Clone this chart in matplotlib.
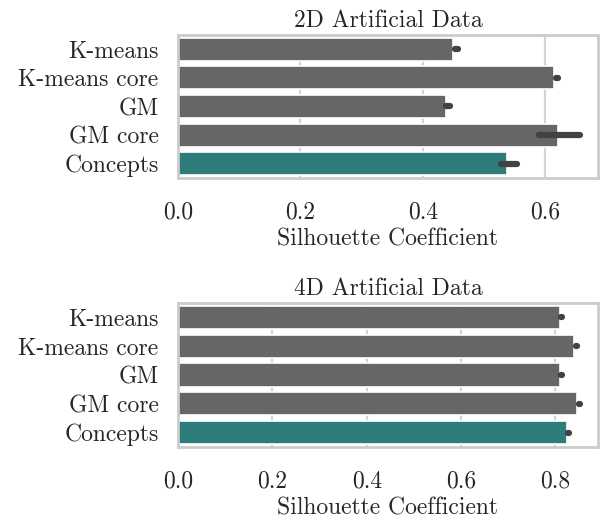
import numpy as np
import matplotlib
matplotlib.use("Agg")
import matplotlib.pyplot as plt

plt.rcParams['font.family'] = 'cmr10'
plt.rcParams['axes.formatter.use_mathtext'] = True

# data
methods = ['K-means', 'K-means core', 'GM', 'GM core', 'Concepts']

sil_2d = [0.450, 0.615, 0.438, 0.621, 0.537]
ci_2d_lo = [0.453, 0.617, 0.437, 0.590, 0.527]
ci_2d_hi = [0.457, 0.620, 0.444, 0.657, 0.553]

sil_4d = [0.809, 0.840, 0.809, 0.846, 0.825]
ci_4d_lo = [0.812, 0.843, 0.812, 0.849, 0.827]
ci_4d_hi = [0.814, 0.845, 0.814, 0.851, 0.829]

titles = ['2D Artificial Data', '4D Artificial Data']
xlims = [0.686, 0.890]
xticks = [[0.0, 0.2, 0.4, 0.6], [0.0, 0.2, 0.4, 0.6, 0.8]]

grey = '#666666'
teal = '#2e7d7a'
colors = [grey, grey, grey, grey, teal]
txt = '#262626'
fs = 17

fig = plt.figure(figsize=(6.04, 5.23), dpi=100)
ax1 = fig.add_axes([0.2947, 0.6597, 0.6953, 0.2734])
ax2 = fig.add_axes([0.2947, 0.1453, 0.6953, 0.2754])

panels = [(ax1, sil_2d, ci_2d_lo, ci_2d_hi), (ax2, sil_4d, ci_4d_lo, ci_4d_hi)]

for i, (ax, vals, lo, hi) in enumerate(panels):
    y = np.arange(len(methods))
    ax.barh(y, vals, height=0.8, color=colors, edgecolor='white', lw=1.2, zorder=2)
    for k in range(len(methods)):
        ax.plot([lo[k], hi[k]], [y[k], y[k]], color='#424242', lw=4.5,
                solid_capstyle='round', zorder=3)
    ax.set_yticks(y)
    ax.set_yticklabels(methods, fontsize=fs, color=txt)
    ax.set_ylim(4.5, -0.5)
    ax.set_xlim(0, xlims[i])
    ax.set_xticks(xticks[i])
    ax.set_xticklabels(['%.1f' % t for t in xticks[i]], fontsize=fs, color=txt)
    ax.set_xlabel('Silhouette Coefficient', fontsize=fs, color=txt, labelpad=3)
    ax.set_title(titles[i], fontsize=fs, color=txt)
    ax.tick_params(axis='y', length=0, pad=14)
    ax.tick_params(axis='x', length=0, pad=17)
    ax.grid(axis='x', color='#d4d4d4', lw=1.6, zorder=0)
    ax.grid(axis='y', visible=False)
    ax.set_axisbelow(True)
    for s in ax.spines.values():
        s.set_color('#cccccc')
        s.set_linewidth(2)

fig.savefig('out.png', dpi=100)
